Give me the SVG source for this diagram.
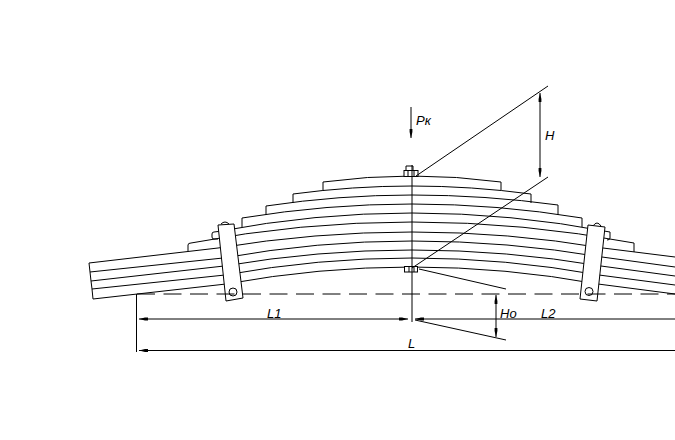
<svg xmlns="http://www.w3.org/2000/svg" width="675" height="440" viewBox="0 0 675 440">
<style>
.l{fill:none;stroke:#000;stroke-width:1}
.w{fill:#fff;stroke:#000;stroke-width:1}
text{font-family:"Liberation Sans",Arial,sans-serif;font-style:italic;font-size:13px;fill:#000}
</style>
<defs>
<marker id="a" markerUnits="userSpaceOnUse" markerWidth="10" markerHeight="4" refX="9" refY="2" orient="auto-start-reverse"><path d="M0 .6L3 .6L9 2L3 3.4L0 3.4Z" fill="#000"/></marker>
</defs>
<rect width="675" height="440" fill="#fff"/>
<g id="spring" class="l">
<path class="l" d="M323 191V182Q367.500 176 412 176Q456.500 176 501 182V190"/>
<path class="l" d="M293 203V194Q352.500 186 412 186Q471.500 186 531 194V203"/>
<path class="l" d="M266 215V206Q339 195 412 195Q485 195 558 205V215"/>
<path class="l" d="M242 227V218Q327 204 412 204Q497 204 582 218V227"/>
<path class="l" d="M218 239H214Q212 239 212 237V234Q212 232 214 232L218 231.500Q315 213 412 213Q511 213 610 232V238Q610 240 607 240"/>
<path class="l" d="M188 251V245Q188 243 191 243Q300 222 412 222Q523 222 634 243V252"/>
<path class="l" d="M89 263L218 248Q315 232 412 232Q508 232 603 248L675 257"/>
<path class="l" d="M89 263L90 272L223 258Q317 241 412 241Q507 241 602 257L675 267"/>
<path class="l" d="M90 272L91 281L224 266Q318 250 412 250Q506 250 601 266L675 276"/>
<path class="l" d="M91 281L92 289L225 275Q318 258 412 258Q505 258 599 275L675 285"/>
<path class="l" d="M92 289L93 299L226 284Q319 267 412 267Q505 267 598 284L675 294"/>
</g>
<g id="clamp-left">
<path class="w" d="M221 224Q225 220 229 224"/>
<path class="w" d="M218 225L234 224L243 298L226 301Z"/>
<circle class="w" cx="233" cy="292" r="4" stroke-width="1.500"/>
</g>
<g id="clamp-right">
<path class="w" d="M593 226Q597 220 601 226"/>
<path class="w" d="M588 225L605 227L597 301L580 299Z"/>
<circle class="w" cx="589" cy="291.500" r="4" stroke-width="1.500"/>
</g>
<g id="bolt-top" class="l">
<path class="w" d="M406 170V166H413V170"/>
<rect class="w" x="404" y="170.500" width="14" height="6"/>
<path class="l" d="M408 170.500V176.500M414 170.500V176.500"/>
</g>
<g id="bolt-bottom" class="l">
<rect class="w" x="404.500" y="266.500" width="13" height="5.500"/>
<path class="l" d="M409 266.500V272M414 266.500V272"/>
</g>
<g id="connectors" class="l">
<path class="l" d="M412 165V322"/>
<path class="l" d="M137 294H675" stroke-dasharray="18 8.500"/>
<path class="l" d="M411 107V138" marker-end="url(#a)"/>
<path class="l" d="M416 176L548 86"/>
<path class="l" d="M412 268L548 177"/>
<path class="l" d="M540 93V177" marker-start="url(#a)" marker-end="url(#a)"/>
<path class="l" d="M419 269L506 289"/>
<path class="l" d="M415 320L506 340"/>
<path class="l" d="M496 295V337" marker-start="url(#a)" marker-end="url(#a)"/>
<path class="l" d="M136.500 294V352"/>
<path class="l" d="M139 319H408" marker-start="url(#a)" marker-end="url(#a)"/>
<path class="l" d="M415 319H675" marker-start="url(#a)"/>
<path class="l" d="M139 350.500H675" marker-start="url(#a)"/>
</g>
<g id="labels">
<text x="416" y="125">Рк</text>
<text x="545" y="140">H</text>
<text x="500" y="318">Hо</text>
<text x="267" y="318">L1</text>
<text x="541" y="318">L2</text>
<text x="408" y="348">L</text>
</g>
</svg>
